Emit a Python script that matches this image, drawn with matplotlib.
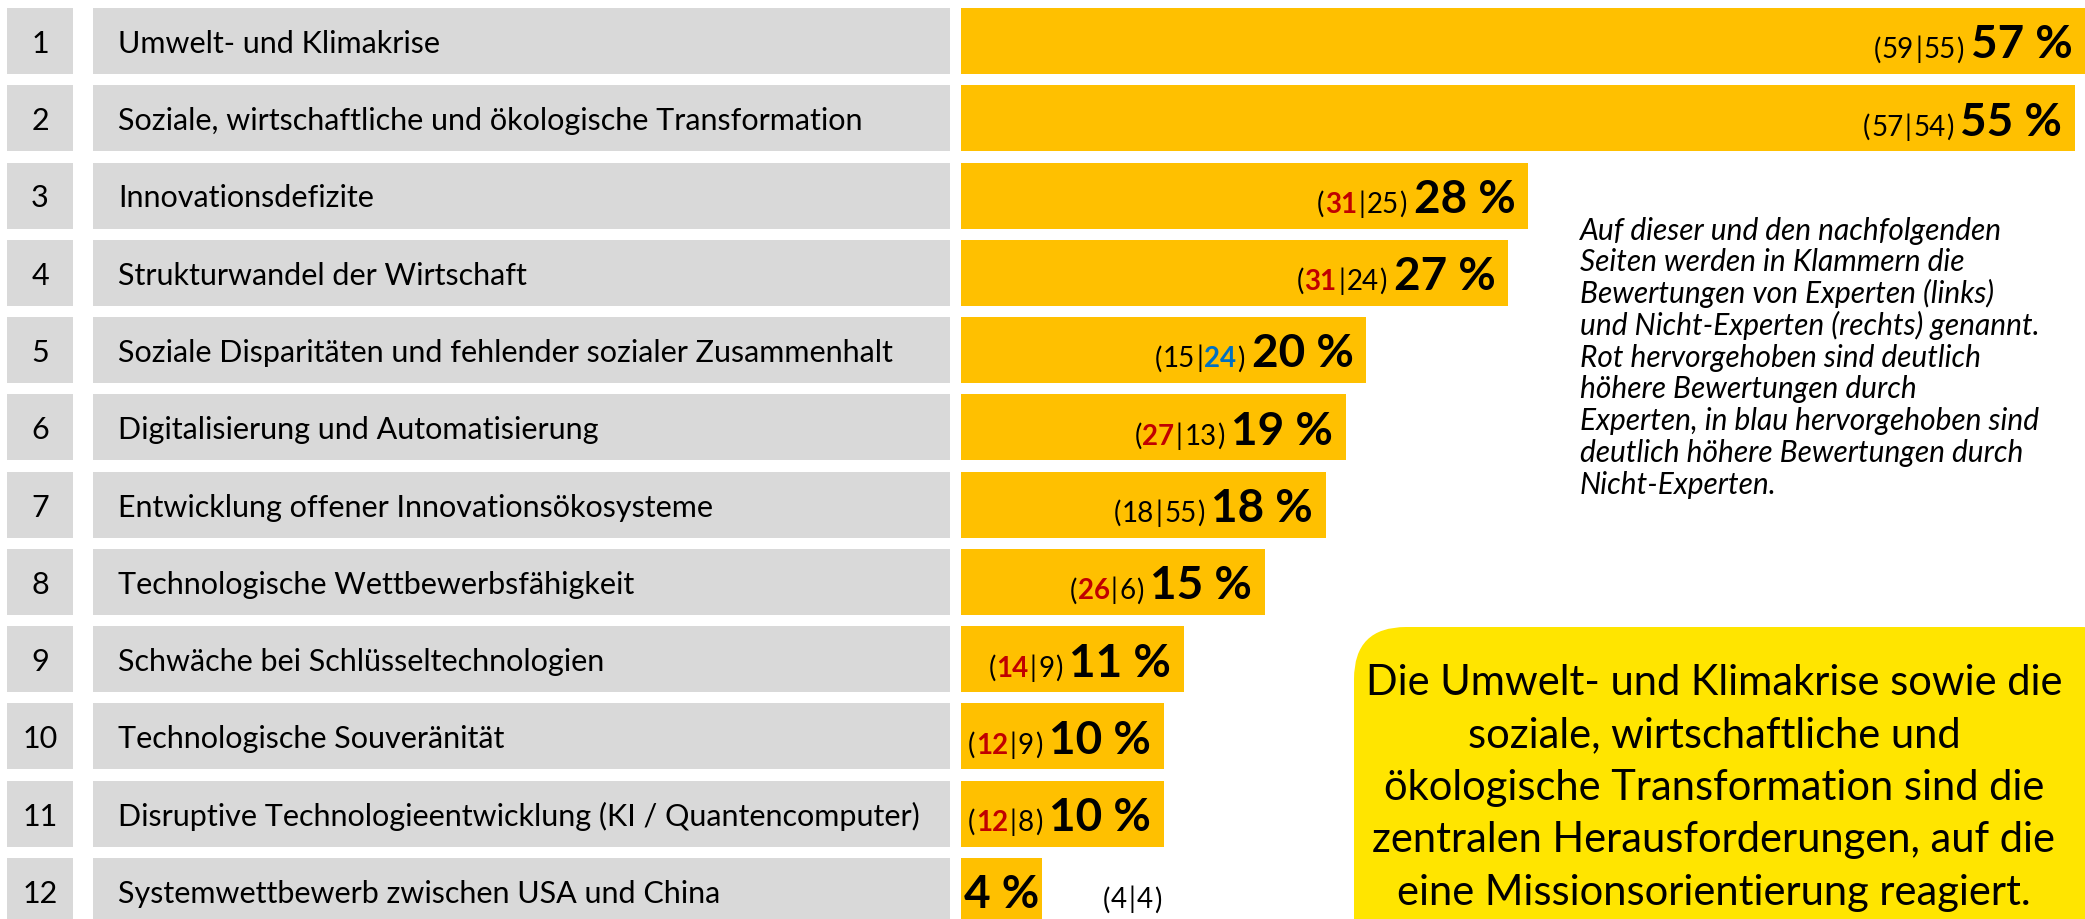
import matplotlib.pyplot as plt
from matplotlib.patches import FancyBboxPatch

plt.rcParams['font.family'] = ['Lato', 'DejaVu Sans']

# data
ranks = list(range(1, 13))
challenges = [
    "Umwelt- und Klimakrise",
    "Soziale, wirtschaftliche und ökologische Transformation",
    "Innovationsdefizite",
    "Strukturwandel der Wirtschaft",
    "Soziale Disparitäten und fehlender sozialer Zusammenhalt",
    "Digitalisierung und Automatisierung",
    "Entwicklung offener Innovationsökosysteme",
    "Technologische Wettbewerbsfähigkeit",
    "Schwäche bei Schlüsseltechnologien",
    "Technologische Souveränität",
    "Disruptive Technologieentwicklung (KI / Quantencomputer)",
    "Systemwettbewerb zwischen USA und China",
]
shares = [57, 55, 28, 27, 20, 19, 18, 15, 11, 10, 10, 4]
experts = [59, 57, 31, 31, 15, 27, 18, 26, 14, 12, 12, 4]
non_experts = [55, 54, 25, 24, 24, 13, 55, 6, 9, 9, 8, 4]
# which of the two values is highlighted: "exp" red, "non" blue
highlight = ["", "", "exp", "exp", "non", "exp", "", "exp", "exp", "exp", "exp", ""]

note_lines = [
    "Auf dieser und den nachfolgenden",
    "Seiten werden in Klammern die",
    "Bewertungen von Experten (links)",
    "und Nicht-Experten (rechts) genannt.",
    "Rot hervorgehoben sind deutlich",
    "höhere Bewertungen durch",
    "Experten, in blau hervorgehoben sind",
    "deutlich höhere Bewertungen durch",
    "Nicht-Experten.",
]
callout_lines = [
    "Die Umwelt- und Klimakrise sowie die",
    "soziale, wirtschaftliche und",
    "ökologische Transformation sind die",
    "zentralen Herausforderungen, auf die",
    "eine Missionsorientierung reagiert.",
]

GREY = "#D9D9D9"
ORANGE = "#FFC000"
YELLOW = "#FFE500"
RED = "#C00000"
BLUE = "#0070C0"

W, H = 2085, 920
ROW0, PITCH = 42, 77.27      # pixel centre of first row, row pitch
BAR_H = 66 / PITCH
BAR_LEFT = 961
PX_PER_PCT = 20.25
LBL = 22       # row labels
BRK = 20       # bracket values
PCT = 33       # bold shares


def put(ax, x, y, s, size, **kw):
    # place text so that capitals are centred on y
    return ax.annotate(s, (x, y), xytext=(0, -0.358 * size), textcoords="offset points",
                       va="baseline", fontsize=size, **kw)


fig = plt.figure(figsize=(W / 100, H / 100), dpi=100)

ax_tab = fig.add_axes([0, 0, 1, 1])
ax_tab.set_xlim(0, W)
ax_tab.set_ylim((H - ROW0) / PITCH, -ROW0 / PITCH)
ax_tab.axis("off")

ax_bar = fig.add_axes([BAR_LEFT / W, 0, 1 - BAR_LEFT / W, 1], sharey=ax_tab)
xmax = (W - BAR_LEFT) / PX_PER_PCT
ax_bar.set_xlim(0, xmax)
ax_bar.axis("off")

ax_px = fig.add_axes([0, 0, 1, 1])
ax_px.set_xlim(0, W)
ax_px.set_ylim(H, 0)
ax_px.axis("off")

rows = list(range(len(challenges)))
ax_tab.barh(rows, 66, left=7, height=BAR_H, color=GREY)
ax_tab.barh(rows, 857, left=93, height=BAR_H, color=GREY)
ax_bar.barh(rows, shares, height=BAR_H, color=ORANGE)

for i in rows:
    put(ax_tab, 40, i, str(ranks[i]), LBL, ha="center")
    put(ax_tab, 118, i, challenges[i], LBL, ha="left")

    cexp = RED if highlight[i] == "exp" else "black"
    cnon = BLUE if highlight[i] == "non" else "black"
    wexp = "bold" if highlight[i] == "exp" else "normal"
    wnon = "bold" if highlight[i] == "non" else "normal"
    base = -0.358 * PCT
    v = shares[i]

    if v * PX_PER_PCT > 150:
        prev = ax_bar.annotate(f"{v} %", (min(v, xmax - 0.01), i), xytext=(-9, base),
                               textcoords="offset points", ha="right", va="baseline",
                               fontsize=PCT, fontweight="bold")
        pieces = [(")", "black", "normal", 5), (str(non_experts[i]), cnon, wnon, 0.5),
                  ("|", "black", "normal", 1), (str(experts[i]), cexp, wexp, 1),
                  ("(", "black", "normal", 0.5)]
        for s, c, w, g in pieces:
            prev = ax_bar.annotate(s, (0, i), xycoords=(prev, "data"), xytext=(-g, base),
                                   textcoords="offset points", ha="right", va="baseline",
                                   fontsize=BRK, color=c, fontweight=w)
    else:
        ax_bar.annotate(f"{v} %", (v / 2, i), xytext=(0, base), textcoords="offset points",
                        ha="center", va="baseline", fontsize=PCT, fontweight="bold")
        prev = ax_bar.annotate("(", (v, i), xytext=(44, base), textcoords="offset points",
                               ha="left", va="baseline", fontsize=BRK)
        pieces = [(str(experts[i]), cexp, wexp, 0.5), ("|", "black", "normal", 1),
                  (str(non_experts[i]), cnon, wnon, 1), (")", "black", "normal", 0.5)]
        for s, c, w, g in pieces:
            prev = ax_bar.annotate(s, (1, i), xycoords=(prev, "data"), xytext=(g, base),
                                   textcoords="offset points", ha="left", va="baseline",
                                   fontsize=BRK, color=c, fontweight=w)

# explanatory note
for k, line in enumerate(note_lines):
    put(ax_px, 1580, 229 + k * 31.75, line, 21.5, ha="left", style="italic")

# callout box
ax_px.add_patch(FancyBboxPatch((1354, 628), 780, 400, boxstyle="round,pad=0,rounding_size=52",
                               facecolor=YELLOW, edgecolor="none"))
for k, line in enumerate(callout_lines):
    put(ax_px, 1714, 680 + k * 52.5, line, 30, ha="center")

fig.savefig("out.png", dpi=100)
